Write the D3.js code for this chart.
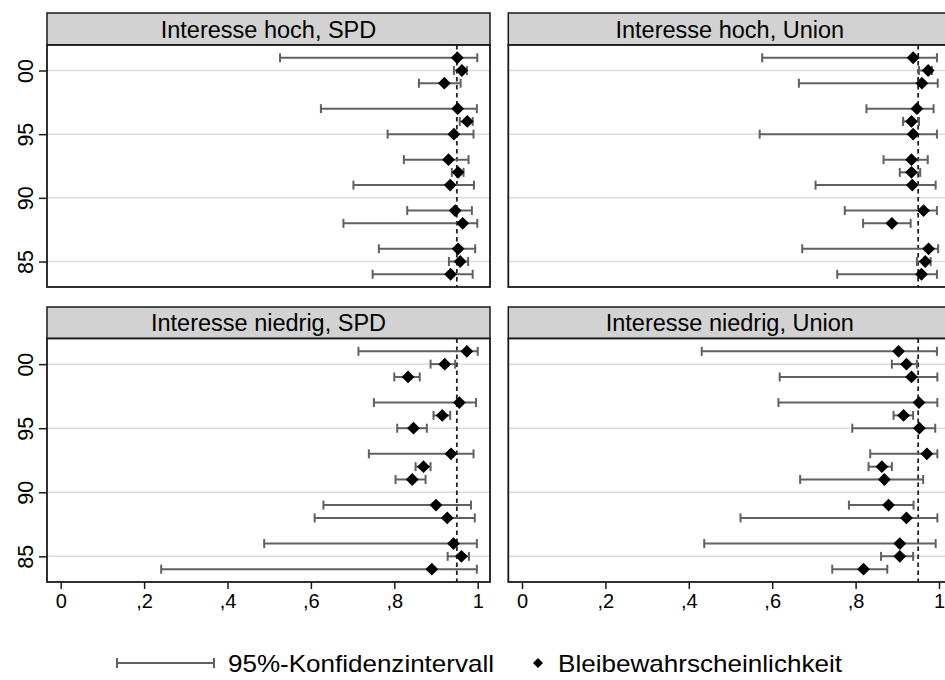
<!DOCTYPE html>
<html>
<head>
<meta charset="utf-8">
<script src="https://cdn.jsdelivr.net/npm/d3@7"></script>
<style>
  html, body { margin: 0; padding: 0; background: #fff; }
  svg { display: block; font-family: Arial, "Liberation Sans", sans-serif; }
</style>
</head>
<body>
<svg id="chart" width="945" height="680"></svg>
<script>
// ---- Data ----
const years = [2001, 2000, 1999, 1997, 1996, 1995, 1993, 1992, 1991, 1989, 1988, 1986, 1985, 1984];
const yTickValues = [1985, 1990, 1995, 2000];
const yTickLabels = ["85", "90", "95", "00"];
const xTickValues = [0, 0.2, 0.4, 0.6, 0.8, 1];
const xTickLabels = ["0", ",2", ",4", ",6", ",8", "1"];
const panelTitles = ["Interesse hoch, SPD", "Interesse hoch, Union", "Interesse niedrig, SPD", "Interesse niedrig, Union"];
const referenceValue = 0.95;

const hochSPD_est = [0.951, 0.962, 0.920, 0.952, 0.975, 0.943, 0.930, 0.953, 0.934, 0.946, 0.964, 0.953, 0.958, 0.935];
const hochSPD_lo  = [0.526, 0.943, 0.859, 0.624, 0.957, 0.784, 0.823, 0.938, 0.702, 0.831, 0.678, 0.763, 0.931, 0.748];
const hochSPD_hi  = [0.999, 0.974, 0.959, 0.998, 0.988, 0.990, 0.978, 0.966, 0.991, 0.986, 0.999, 0.994, 0.977, 0.988];

const hochUnion_est = [0.938, 0.974, 0.959, 0.947, 0.934, 0.938, 0.934, 0.934, 0.936, 0.963, 0.887, 0.975, 0.967, 0.958];
const hochUnion_lo  = [0.576, 0.952, 0.664, 0.826, 0.914, 0.570, 0.867, 0.906, 0.704, 0.774, 0.818, 0.672, 0.947, 0.756];
const hochUnion_hi  = [0.995, 0.983, 0.997, 0.987, 0.952, 0.995, 0.973, 0.955, 0.992, 0.995, 0.932, 0.998, 0.980, 0.995];

const niedrigSPD_est = [0.974, 0.921, 0.833, 0.956, 0.915, 0.846, 0.936, 0.870, 0.843, 0.900, 0.927, 0.942, 0.961, 0.890];
const niedrigSPD_lo  = [0.714, 0.887, 0.800, 0.751, 0.894, 0.807, 0.739, 0.851, 0.803, 0.630, 0.609, 0.488, 0.928, 0.241];
const niedrigSPD_hi  = [1.000, 0.946, 0.861, 0.996, 0.934, 0.878, 0.990, 0.887, 0.875, 0.984, 0.993, 0.998, 0.979, 0.998];

const niedrigUnion_est = [0.903, 0.922, 0.934, 0.952, 0.915, 0.953, 0.971, 0.863, 0.869, 0.879, 0.922, 0.906, 0.906, 0.819];
const niedrigUnion_lo  = [0.431, 0.887, 0.618, 0.615, 0.891, 0.792, 0.835, 0.831, 0.667, 0.784, 0.524, 0.437, 0.861, 0.744];
const niedrigUnion_hi  = [0.995, 0.947, 0.996, 0.996, 0.938, 0.991, 0.996, 0.887, 0.962, 0.939, 0.996, 0.992, 0.938, 0.876];

const legendLabels = ["95%-Konfidenzintervall", "Bleibewahrscheinlichkeit"];

// ---- Layout ----
const svg = d3.select("#chart");
const FONT = 'Arial, "Liberation Sans", sans-serif';

const panels = [
  { title: panelTitles[0], est: hochSPD_est, lo: hochSPD_lo, hi: hochSPD_hi, x0: 47, x1: 490, hTop: 13, pTop: 45, pBot: 287, yAxis: true, xAxis: false },
  { title: panelTitles[1], est: hochUnion_est, lo: hochUnion_lo, hi: hochUnion_hi, x0: 508.3, x1: 951.3, hTop: 13, pTop: 45, pBot: 287, yAxis: false, xAxis: false },
  { title: panelTitles[2], est: niedrigSPD_est, lo: niedrigSPD_lo, hi: niedrigSPD_hi, x0: 47, x1: 490, hTop: 307, pTop: 338.5, pBot: 582, yAxis: true, xAxis: true },
  { title: panelTitles[3], est: niedrigUnion_est, lo: niedrigUnion_lo, hi: niedrigUnion_hi, x0: 508.3, x1: 951.3, hTop: 307, pTop: 338.5, pBot: 582, yAxis: false, xAxis: true }
];

const diamond = d3.symbol().type(d3.symbolSquare).size(82);

panels.forEach(p => {
  const g = svg.append("g");
  const x = d3.scaleLinear().domain([0, 1]).range([p.x0 + 13.7, p.x0 + 430.7]);
  const y = d3.scaleLinear().domain([1983, 2002]).range([p.pBot, p.pTop]);

  // header
  g.append("rect").attr("x", p.x0).attr("y", p.hTop).attr("width", p.x1 - p.x0).attr("height", p.pTop - p.hTop)
    .attr("fill", "#d2d2d2").attr("stroke", "#1a1a1a").attr("stroke-width", 1.5);
  g.append("text").attr("x", (p.x0 + p.x1) / 2).attr("y", (p.hTop + p.pTop) / 2 + 8.5)
    .attr("text-anchor", "middle").attr("font-size", 23.5).attr("fill", "#000").text(p.title);

  // plot background
  g.append("rect").attr("x", p.x0).attr("y", p.pTop).attr("width", p.x1 - p.x0).attr("height", p.pBot - p.pTop)
    .attr("fill", "#fff");

  // gridlines
  g.append("g").selectAll("line").data(yTickValues).join("line")
    .attr("x1", p.x0).attr("x2", p.x1).attr("y1", d => y(d)).attr("y2", d => y(d))
    .attr("stroke", "#dcdcdc").attr("stroke-width", 1.5);

  // reference dashed line
  g.append("line").attr("x1", x(referenceValue)).attr("x2", x(referenceValue))
    .attr("y1", p.pTop).attr("y2", p.pBot)
    .attr("stroke", "#222").attr("stroke-width", 1.8).attr("stroke-dasharray", "4.5,3.5");

  // error bars
  const bars = g.append("g").attr("stroke", "#606060").attr("stroke-width", 2).attr("fill", "none");
  years.forEach((yr, i) => {
    const yy = y(yr);
    bars.append("line").attr("x1", x(p.lo[i])).attr("x2", x(p.hi[i])).attr("y1", yy).attr("y2", yy);
    bars.append("line").attr("x1", x(p.lo[i])).attr("x2", x(p.lo[i])).attr("y1", yy - 4.5).attr("y2", yy + 4.5);
    bars.append("line").attr("x1", x(p.hi[i])).attr("x2", x(p.hi[i])).attr("y1", yy - 4.5).attr("y2", yy + 4.5);
  });

  // diamonds
  g.append("g").selectAll("path").data(years).join("path")
    .attr("d", diamond)
    .attr("transform", (d, i) => `translate(${x(p.est[i])},${y(d)}) rotate(45)`)
    .attr("fill", "#000");

  // plot frame
  g.append("rect").attr("x", p.x0).attr("y", p.pTop).attr("width", p.x1 - p.x0).attr("height", p.pBot - p.pTop)
    .attr("fill", "none").attr("stroke", "#1a1a1a").attr("stroke-width", 1.8);

  // y axis
  if (p.yAxis) {
    const ya = d3.axisLeft(y).tickValues(yTickValues).tickSize(8).tickPadding(6)
      .tickFormat((d, i) => yTickLabels[i]);
    const ag = g.append("g").attr("transform", `translate(${p.x0},0)`).call(ya);
    ag.select(".domain").remove();
    ag.selectAll(".tick line").attr("stroke", "#1a1a1a").attr("stroke-width", 1.5);
    ag.selectAll(".tick text")
      .attr("font-family", FONT).attr("font-size", 21.5).attr("fill", "#000")
      .attr("text-anchor", "middle").attr("dy", null).attr("x", null)
      .attr("transform", "translate(-14,0) rotate(-90)");
  }
  // x axis
  if (p.xAxis) {
    const xa = d3.axisBottom(x).tickValues(xTickValues).tickSize(7).tickPadding(5)
      .tickFormat((d, i) => xTickLabels[i]);
    const ag = g.append("g").attr("transform", `translate(0,${p.pBot})`).call(xa);
    ag.select(".domain").remove();
    ag.selectAll(".tick line").attr("stroke", "#1a1a1a").attr("stroke-width", 1.5);
    ag.selectAll(".tick text").attr("font-family", FONT).attr("font-size", 20).attr("fill", "#000");
  }
});

// ---- Legend ----
const lg = svg.append("g");
const ly = 663;
lg.append("line").attr("x1", 117).attr("x2", 214).attr("y1", ly).attr("y2", ly).attr("stroke", "#606060").attr("stroke-width", 2);
lg.append("line").attr("x1", 117).attr("x2", 117).attr("y1", ly - 5).attr("y2", ly + 5).attr("stroke", "#606060").attr("stroke-width", 2);
lg.append("line").attr("x1", 214).attr("x2", 214).attr("y1", ly - 5).attr("y2", ly + 5).attr("stroke", "#606060").attr("stroke-width", 2);
lg.append("text").attr("x", 228).attr("y", ly + 8.5).attr("font-size", 24)
  .attr("textLength", 266).attr("lengthAdjust", "spacingAndGlyphs").attr("fill", "#000").text(legendLabels[0]);
lg.append("path").attr("d", d3.symbol().type(d3.symbolSquare).size(50)).attr("transform", `translate(538,${ly}) rotate(45)`).attr("fill", "#000");
lg.append("text").attr("x", 558).attr("y", ly + 8.5).attr("font-size", 24)
  .attr("textLength", 284).attr("lengthAdjust", "spacingAndGlyphs").attr("fill", "#000").text(legendLabels[1]);
</script>
</body>
</html>
